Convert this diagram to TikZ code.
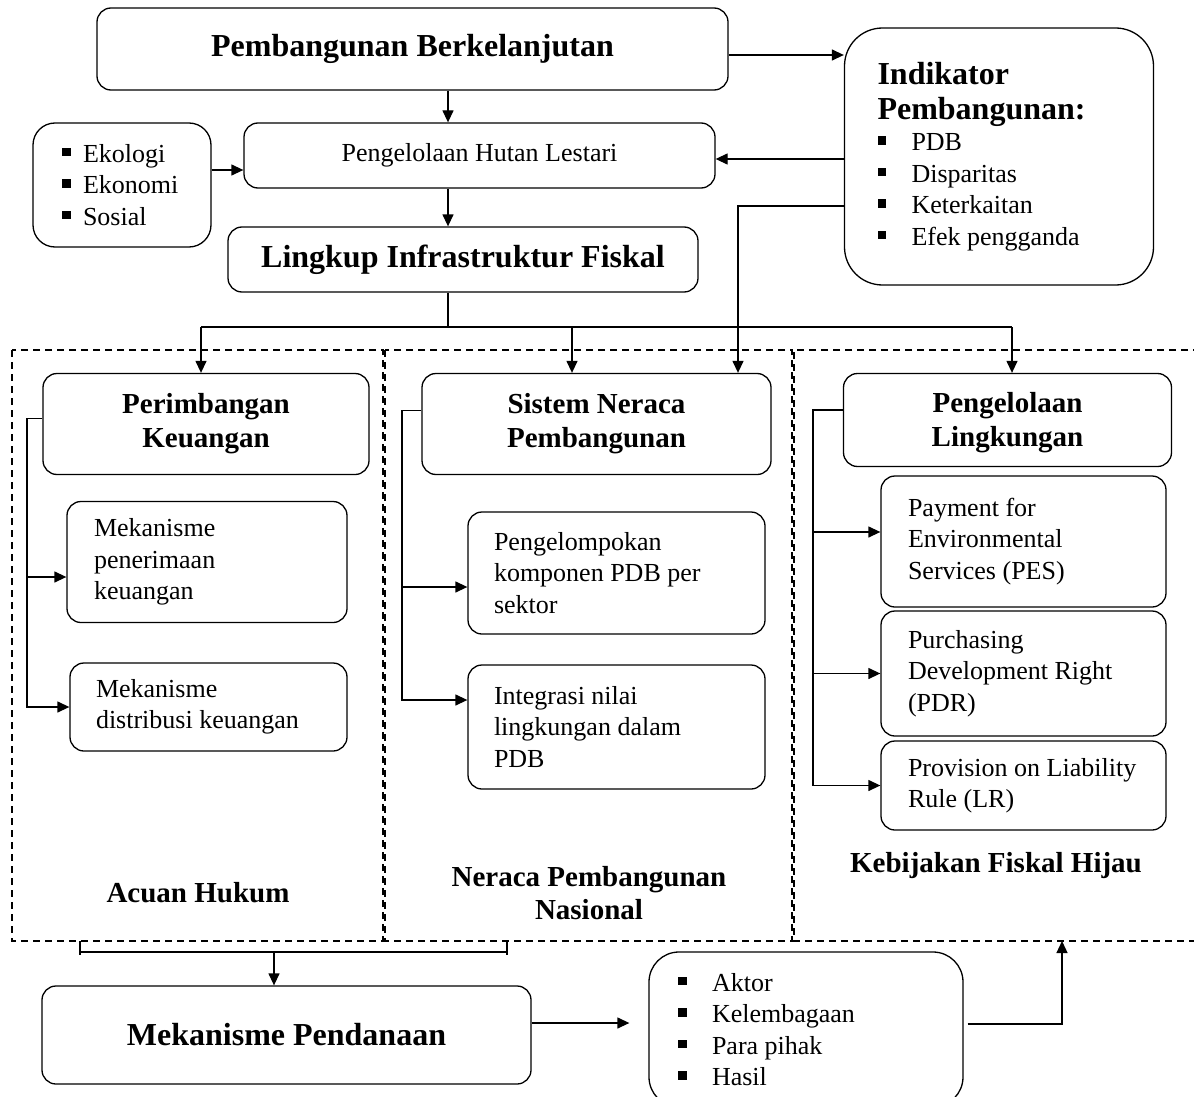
\documentclass[tikz,border=0pt]{standalone}
\usepackage{fontspec}
\setmainfont{Liberation Serif}
\usetikzlibrary{arrows.meta,calc}

% small filled square used as a list bullet, followed by a fixed indent
\newcommand\sqbul[1]{\makebox[#1][l]{\rule[6pt]{8.5pt}{8.5pt}}}

\begin{document}
\begin{tikzpicture}[x=1pt,y=-1pt,
  box/.style={draw, line width=1.3pt, rounded corners=14pt, inner ysep=0pt},
  titlebox/.style={box, align=center, font=\fontsize{32}{36}\selectfont\bfseries},
  subtitle/.style={box, align=center, font=\fontsize{29}{34}\selectfont\bfseries},
  itembox/.style={box, align=flush left, font=\fontsize{26}{31.5}\selectfont},
  arr/.style={line width=1.3pt, -{Triangle[length=12pt,width=11pt]}},
  conn/.style={line width=1.3pt},
  panel/.style={line width=1.2pt, dash pattern=on 7pt off 5pt},
  caption/.style={align=center, font=\fontsize{29}{33}\selectfont\bfseries, inner sep=0pt},
]
\useasboundingbox (0,0) rectangle (1194,1097);

% ---- dashed panels ----
\draw[panel] (12,350) rectangle (383,941);
\draw[panel] (385,350) rectangle (792,941);
\draw[panel] (1200,350) -- (794,350) -- (794,941) -- (1200,941);

% ---- top part ----
\node[titlebox, minimum width=631, minimum height=82] (pb) at (412.5,49) {Pembangunan Berkelanjutan};
\node[itembox, align=center, minimum width=471, minimum height=65] (phl) at (479.5,155.5) {Pengelolaan Hutan Lestari};
\node[itembox, rounded corners=22pt, text width=120pt, inner xsep=29pt, minimum height=124] (eko) at (122,185)
  {\sqbul{21pt}Ekologi\\ \sqbul{21pt}Ekonomi\\ \sqbul{21pt}Sosial};
\node[titlebox, minimum width=470, minimum height=65] (lif) at (463,259.5) {Lingkup Infrastruktur Fiskal};
\node[itembox, rounded corners=38pt, text width=243pt, inner xsep=33pt, minimum height=257] (ind) at (999,156.5)
  {{\bfseries\fontsize{32}{31}\selectfont Indikator}\\[3pt]
   {\bfseries\fontsize{32}{31}\selectfont Pembangunan:}\\
   \sqbul{34pt}PDB\\ \sqbul{34pt}Disparitas\\ \sqbul{34pt}Keterkaitan\\ \sqbul{34pt}Efek pengganda};

% ---- left panel ----
\node[subtitle, minimum width=326, minimum height=101] (pk) at (206,424) {Perimbangan\\Keuangan};
\node[itembox, text width=226pt, inner xsep=27pt, minimum height=121] (mpk) at (207,562) {Mekanisme\\penerimaan\\keuangan};
\node[itembox, text width=225pt, inner xsep=26pt, minimum height=88] (mdk) at (208.5,707) {Mekanisme\\distribusi keuangan};
\node[caption] (cah) at (198,893) {Acuan Hukum};

% ---- middle panel ----
\node[subtitle, minimum width=349, minimum height=101] (snp) at (596.5,424) {Sistem Neraca\\Pembangunan};
\node[itembox, text width=245pt, inner xsep=26pt, minimum height=122] (pkp) at (616.5,573) {Pengelompokan\\komponen PDB per\\sektor};
\node[itembox, text width=245pt, inner xsep=26pt, minimum height=124] (inl) at (616.5,727) {Integrasi nilai\\lingkungan dalam\\PDB};
\node[caption] (cnp) at (589,893) {Neraca Pembangunan\\Nasional};

% ---- right panel ----
\node[subtitle, minimum width=328, minimum height=93] (pl) at (1007.5,420) {\rule{0pt}{26pt}Pengelolaan\\Lingkungan};
\node[itembox, text width=231pt, inner xsep=27pt, minimum height=131] (pes) at (1023.5,541.5) {Payment for\\Environmental\\Services (PES)};
\node[itembox, text width=231pt, inner xsep=27pt, minimum height=125] (pdr) at (1023.5,673.5) {Purchasing\\Development Right\\(PDR)};
\node[itembox, text width=231pt, inner xsep=27pt, minimum height=89] (lr) at (1023.5,785.5) {Provision on Liability\\Rule (LR)};
\node[caption] (ckf) at (996,866) {Kebijakan Fiskal Hijau};

% ---- bottom part ----
\node[titlebox, minimum width=489, minimum height=98] (mp) at (286.5,1035) {Mekanisme Pendanaan};
\node[itembox, rounded corners=30pt, text width=256pt, inner xsep=29pt, minimum height=155] (akt) at (806,1029.5)
  {\sqbul{34pt}Aktor\\ \sqbul{34pt}Kelembagaan\\ \sqbul{34pt}Para pihak\\ \sqbul{34pt}Hasil};

% ---- connectors: top ----
\coordinate (sp) at (448,0);
\draw[arr] (pb.south -| sp) -- (phl.north -| sp);
\draw[arr] (phl.south -| sp) -- (lif.north -| sp);
\coordinate (ekoo) at ([yshift=15pt]eko.east);
\draw[arr] (ekoo) -- (ekoo -| phl.west);
\coordinate (pbo) at ([yshift=-6pt]pb.east);
\draw[arr] (pbo) -- (pbo -| ind.west);
\coordinate (ia) at ([yshift=-2.5pt]ind.west);
\draw[arr] (ia) -- (ia -| phl.east);
\coordinate (ib) at ([yshift=-49.5pt]ind.west);
\coordinate (snx) at (738,0);
\draw[arr] (ib) -| (snx |- snp.north);

% ---- distribution bus ----
\coordinate (bus) at (448,327);
\coordinate (bl) at (201,327);
\coordinate (bm) at (572,327);
\coordinate (br) at (1012,327);
\draw[conn] (lif.south -| sp) -- (bus);
\draw[conn] (bl) -- (br);
\draw[arr] (bl) -- (bl |- pk.north);
\draw[arr] (bm) -- (bm |- snp.north);
\draw[arr] (br) -- (br |- pl.north);

% ---- left branch ----
\coordinate (pkw) at ([yshift=5.5pt]pk.west);
\coordinate (lx) at (27,0);
\coordinate (mpkin) at ([yshift=-15pt]mpk.west);
\draw[arr] (pkw) -| (lx |- mdk.west) -- (mdk.west);
\draw[arr] (lx |- mpkin) -- (mpkin);

% ---- middle branch ----
\coordinate (snw) at ([yshift=13.5pt]snp.west);
\coordinate (mx) at (402,0);
\coordinate (pkpin) at ([yshift=-14pt]pkp.west);
\coordinate (inlin) at ([yshift=27pt]inl.west);
\draw[arr] (snw) -| (mx |- inlin) -- (inlin);
\draw[arr] (mx |- pkpin) -- (pkpin);

% ---- right branch ----
\coordinate (plw) at ([yshift=10pt]pl.west);
\coordinate (rx) at (813,0);
\coordinate (pesin) at ([yshift=9.5pt]pes.west);
\draw[arr] (plw) -| (rx |- lr.west) -- (lr.west);
\draw[arr] (rx |- pesin) -- (pesin);
\draw[arr] (rx |- pdr.west) -- (pdr.west);

% ---- bracket and bottom flow ----
\coordinate (bka) at (80,952);
\coordinate (bkb) at (507,952);
\coordinate (bkm) at (274,952);
\draw[conn] (bka) -- (bkb);
\draw[conn] ([yshift=11pt]bka) -- ([yshift=-3pt]bka);
\draw[conn] ([yshift=11pt]bkb) -- ([yshift=-3pt]bkb);
\draw[arr] (bkm) -- (bkm |- mp.north);

\coordinate (mpo) at ([yshift=12pt]mp.east);
\coordinate (akin) at ($(mpo -| akt.west)+(-19,0)$);
\draw[arr] (mpo) -- (akin);

\coordinate (ako) at ($(akt.east)+(4,-5.5)$);
\coordinate (kfh) at (1062,941);
\draw[arr] (ako) -| (kfh);

\end{tikzpicture}
\end{document}
